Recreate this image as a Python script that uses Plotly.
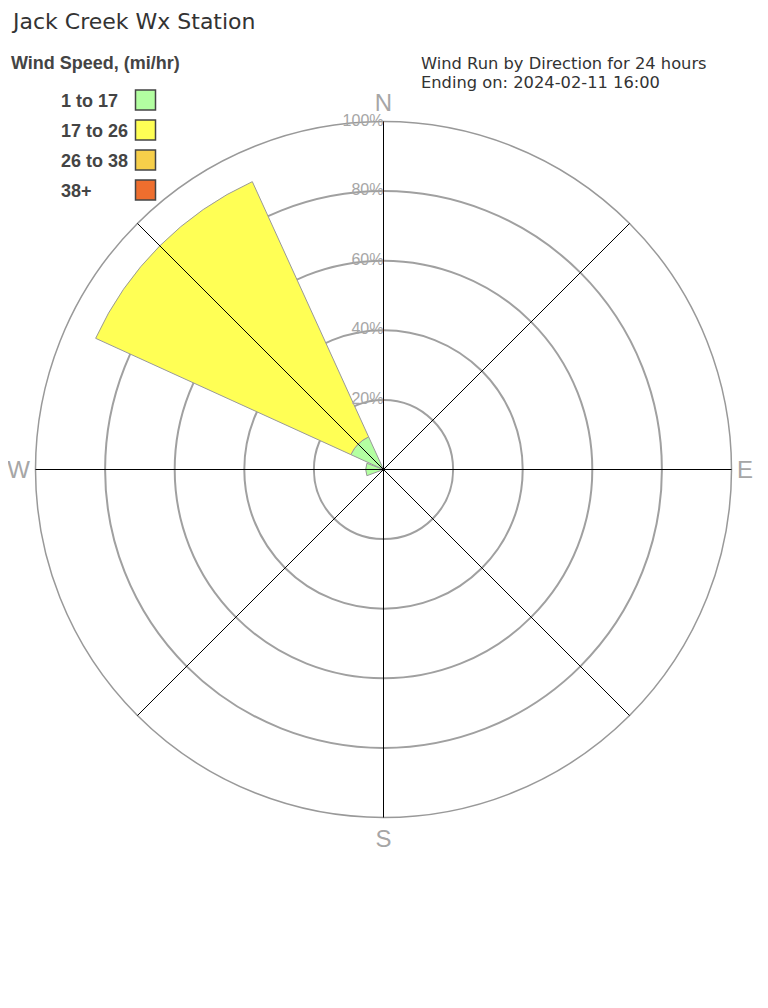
import plotly.graph_objects as go

# ---- data ----
directions = ["N", "NE", "E", "SE", "S", "SW", "W", "NW"]
direction_deg = [0, 45, 90, 135, 180, 225, 270, 315]
speed_bins = ["1 to 17", "17 to 26", "26 to 38", "38+"]
bin_colors = ["#b3ffa1", "#ffff55", "#f7cf4a", "#ee6e2e"]
pct_1_17 = [0, 0, 0, 0, 0, 0, 5.1, 10.3]
pct_17_26 = [0, 0, 0, 0, 0, 0, 0, 80.6]
pct_26_38 = [0, 0, 0, 0, 0, 0, 0, 0]
pct_38p = [0, 0, 0, 0, 0, 0, 0, 0]
series = [pct_1_17, pct_17_26, pct_26_38, pct_38p]
compass_labels = ["N", "", "E", "", "S", "", "W", ""]
radial_ticks = [20, 40, 60, 80, 100]
radial_ticktext = ["20%", "40%", "60%", "80%", "100%"]

title_text = "Jack Creek Wx Station"
legend_title = "Wind Speed, (mi/hr)"
subtitle_lines = ["Wind Run by Direction for 24 hours", "Ending on: 2024-02-11 16:00"]

# figure sits in the page with an 8px body margin
OFF = 8
W, H = 752, 990
FONT = "Liberation Sans, Arial, sans-serif"
FONT_REG = "DejaVu Sans, sans-serif"
GRAY = "#a6a6a6"


def px(x):
    return (x - OFF) / W


def py(y):
    return 1 - (y - OFF) / H


fig = go.Figure()

for name, vals, col in zip(speed_bins, series, bin_colors):
    fig.add_trace(go.Barpolar(
        r=vals, theta=direction_deg, width=[41] * len(vals), name=name,
        marker=dict(color=col, line=dict(color="#999999", width=1)),
        showlegend=False, subplot="polar", hoverinfo="skip",
    ))

# radial tick labels on overlay (above bars)
fig.add_trace(go.Scatterpolar(
    r=radial_ticks, theta=[direction_deg[0]] * len(radial_ticks),
    text=radial_ticktext, mode="text", textposition="middle left",
    textfont=dict(family=FONT, size=16, color=GRAY),
    showlegend=False, subplot="polar2", hoverinfo="skip",
))

CX, CY, R = 383.5, 469.5, 348
dom_x = [px(CX - R), px(CX + R)]
dom_y = [py(CY + R), py(CY - R)]

fig.update_layout(
    width=W, height=H,
    margin=dict(l=0, r=0, t=0, b=0),
    paper_bgcolor="white",
    showlegend=False,
    polar=dict(
        domain=dict(x=dom_x, y=dom_y),
        bgcolor="white",
        barmode="stack",
        angularaxis=dict(
            rotation=90, direction="clockwise",
            tickmode="array", tickvals=direction_deg, ticktext=compass_labels,
            tickfont=dict(family=FONT, size=24, color=GRAY),
            ticks="", showgrid=False,
            showline=True, linecolor="#999999", linewidth=1.5,
        ),
        radialaxis=dict(
            range=[0, 100], tickvals=radial_ticks, showticklabels=False,
            ticks="", showline=False,
            showgrid=True, gridcolor="#a0a0a0", gridwidth=2,
        ),
    ),
    polar2=dict(
        domain=dict(x=dom_x, y=dom_y),
        bgcolor="rgba(0,0,0,0)",
        angularaxis=dict(
            rotation=90, direction="clockwise",
            tickmode="array", tickvals=direction_deg, showticklabels=False,
            ticks="", showgrid=True, gridcolor="black", gridwidth=1,
            showline=False,
        ),
        radialaxis=dict(
            range=[0, 100], showticklabels=False, ticks="",
            showline=False, showgrid=False,
        ),
    ),
)

annotations = [
    dict(text=title_text, x=px(9), y=py(22), xanchor="left", yanchor="middle",
         font=dict(family=FONT_REG, size=22, color="#333333")),
    dict(text="<b>" + legend_title + "</b>", x=px(9), y=py(63), xanchor="left", yanchor="middle",
         font=dict(family=FONT, size=18, color="#444444")),
]
for i, line in enumerate(subtitle_lines):
    annotations.append(dict(text=line, x=px(419), y=py(63 + 19 * i), xanchor="left", yanchor="middle",
                            font=dict(family=FONT_REG, size=16.3, color="#333333")))

shapes = []
for i, (name, col) in enumerate(zip(speed_bins, bin_colors)):
    yc = 100 + 30 * i
    annotations.append(dict(text="<b>" + name + "</b>", x=px(59), y=py(yc + 1),
                            xanchor="left", yanchor="middle",
                            font=dict(family=FONT, size=18, color="#444444")))
    shapes.append(dict(type="rect", xref="paper", yref="paper",
                       x0=px(135.5), x1=px(155.5), y0=py(yc - 10), y1=py(yc + 10),
                       fillcolor=col, line=dict(color="#444444", width=1.5)))

for a in annotations:
    a.update(xref="paper", yref="paper", showarrow=False)

fig.update_layout(annotations=annotations, shapes=shapes)

fig.write_html("out.html")
